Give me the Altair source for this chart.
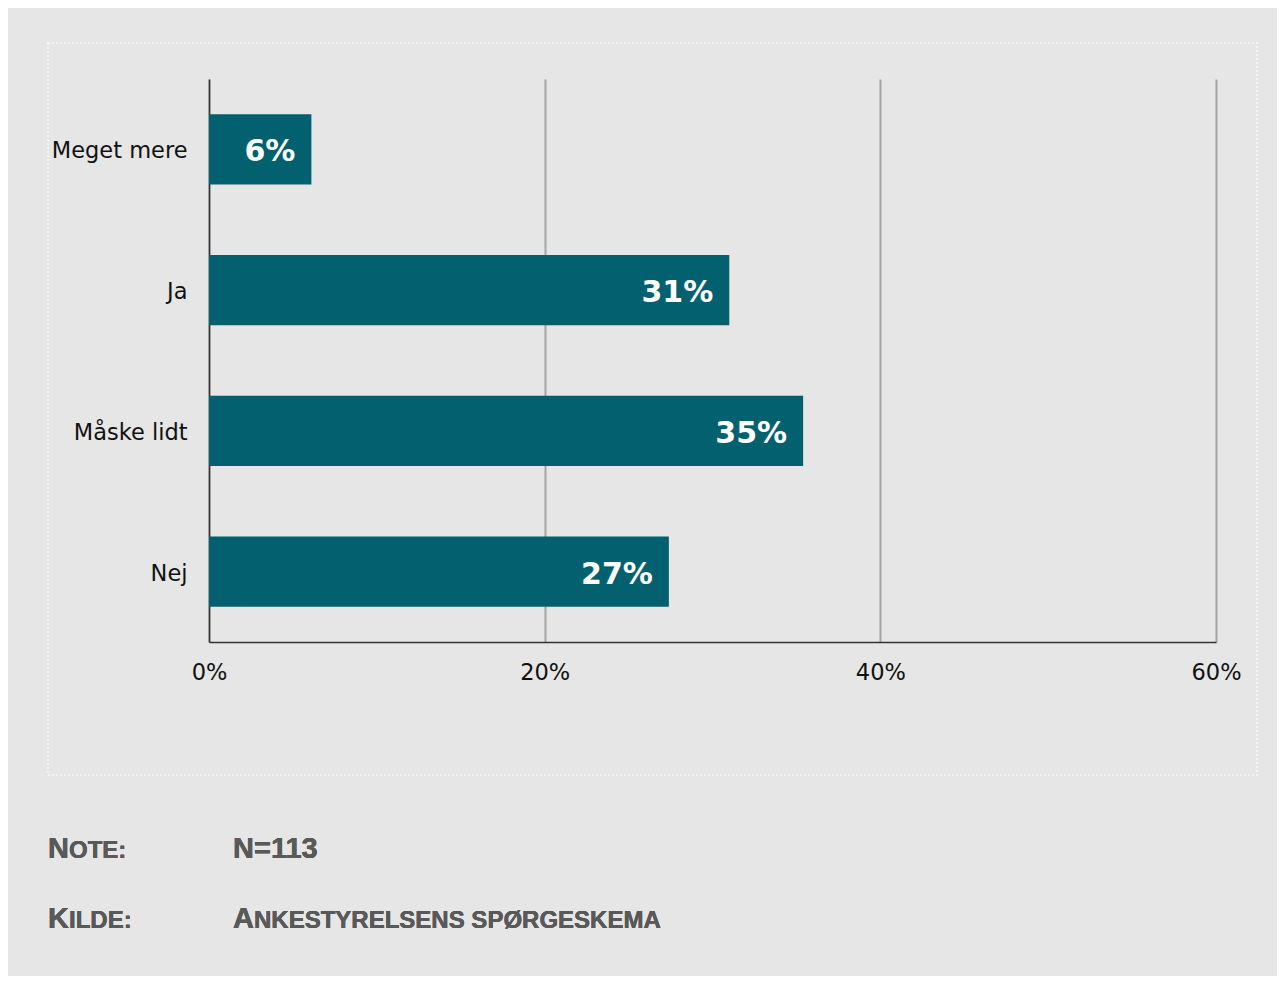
import altair as alt
import pandas as pd

categories = ["Meget mere", "Ja", "Måske lidt", "Nej"]
values = [6.1, 31.0, 35.4, 27.4]
labels = ["6%", "31%", "35%", "27%"]
x_ticks = [0, 20, 40, 60]

note_label = ["N", "OTE:"]
note_value = "N=113"
source_label = ["K", "ILDE:"]
source_value = ["A", "NKESTYRELSENS SPØRGESKEMA"]

df = pd.DataFrame({"cat": categories, "val": values, "lab": labels})

W, H = 1007, 563
FONT = "DejaVu Sans"
NOTE_FONT = "Liberation Sans"
NOTE_COLOR = "#595959"

x_enc = alt.X(
    "val:Q",
    scale=alt.Scale(domain=[0, 60], nice=False),
    axis=alt.Axis(
        values=x_ticks,
        labelExpr="datum.value + '%'",
        title=None,
        grid=True,
        gridColor="#a3a3a3",
        gridWidth=2,
        domain=True,
        domainColor="#333333",
        domainWidth=1.5,
        ticks=False,
        labelFlush=False,
        labelFont=FONT,
        labelFontSize=22.5,
        labelColor="#111111",
        labelPadding=19,
    ),
)
y_enc = alt.Y(
    "cat:N",
    sort=categories,
    scale=alt.Scale(paddingInner=0.5, paddingOuter=0.25),
    axis=alt.Axis(
        title=None,
        domain=True,
        domainColor="#333333",
        domainWidth=1.5,
        ticks=False,
        grid=False,
        labelFont=FONT,
        labelFontSize=22.5,
        labelColor="#111111",
        labelPadding=22,
        labelOffset=2,
    ),
)

bars = alt.Chart(df).mark_bar(color="#03616f").encode(x=x_enc, y=y_enc)

text = alt.Chart(df).mark_text(
    align="right", baseline="middle", dx=-16, dy=3,
    font=FONT, fontSize=30, fontWeight="bold", color="white"
).encode(x="val:Q", y=alt.Y("cat:N", sort=categories), text="lab:N")

frame = alt.Chart(df).mark_rect(
    fill=None, stroke="#f3f3f3", strokeWidth=1.5, strokeDash=[2, 2]
).encode(
    x=alt.value(-161), x2=alt.value(1048), y=alt.value(-36), y2=alt.value(696)
)

def txt(s, x, y, size):
    return alt.Chart(df).mark_text(
        align="left", baseline="alphabetic", font=NOTE_FONT, fontSize=size,
        fontWeight="bold", color=NOTE_COLOR
    ).encode(x=alt.value(x), y=alt.value(y), text=alt.value(s))

notes = [
    txt(note_label[0], -161, 779, 29),
    txt(note_label[1], -140, 779, 24),
    txt(note_value, 24, 779, 29),
    txt(source_label[0], -161, 849, 29),
    txt(source_label[1], -140, 849, 24),
    txt(source_value[0], 24, 849, 29),
    txt(source_value[1], 45, 849, 24),
]

chart = alt.layer(frame, bars, text, *notes).properties(
    width=W, height=H,
    autosize=alt.AutoSizeParams(type="none"),
    padding={"left": 201, "top": 71, "right": 61, "bottom": 334},
    background="#e6e6e6",
).configure_view(stroke=None)

chart.save("out.html", embed_options={"renderer": "svg", "actions": False})
